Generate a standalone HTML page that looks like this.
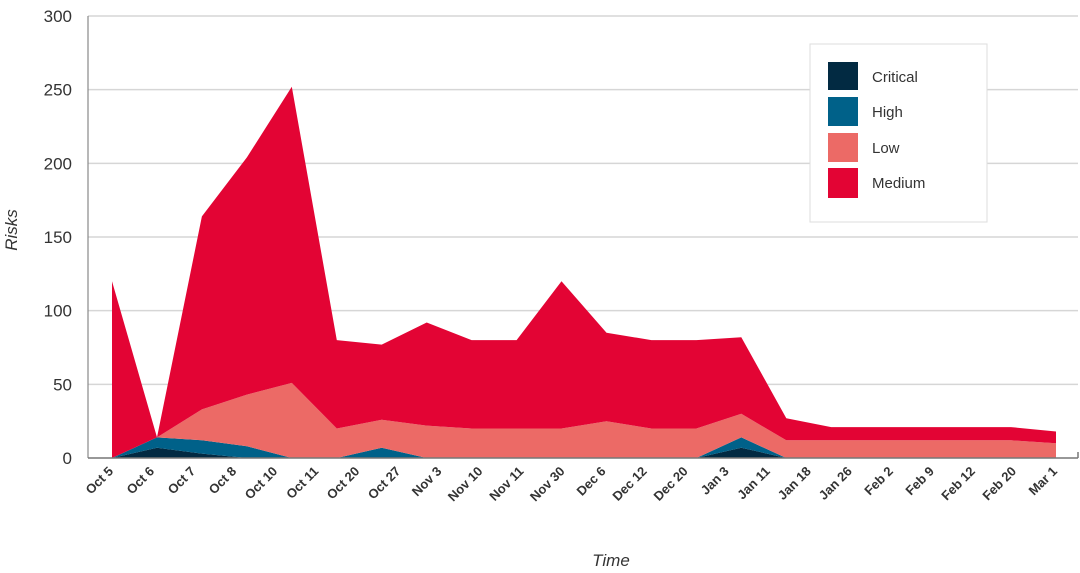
<!DOCTYPE html>
<html><head><meta charset="utf-8"><style>
html,body{margin:0;padding:0;background:#fff}
svg{display:block;font-family:"Liberation Sans",sans-serif}
</style></head><body>
<svg id="chart" width="1080" height="573" viewBox="0 0 1080 573">
<g id="grid"></g>
<g id="areas"></g>
<g id="yticks"></g>
<g id="xticks"></g>
<line x1="88" y1="16" x2="88" y2="458" stroke="#888" stroke-width="1.2"/>
<line x1="88" y1="458" x2="1078" y2="458" stroke="#777" stroke-width="1.5"/>
<line x1="1078" y1="452" x2="1078" y2="458" stroke="#777" stroke-width="1.5"/>
<text transform="translate(17,230) rotate(-90)" text-anchor="middle" font-size="17" font-style="italic" fill="#333">Risks</text>
<text x="611" y="566" text-anchor="middle" font-size="17" font-style="italic" fill="#333">Time</text>
<g>
<rect x="810" y="44" width="177" height="178" fill="#fff" stroke="#ddd"/>
<rect x="828" y="62" width="30" height="28" fill="#022a42"/>
<text x="872" y="82" font-size="15" fill="#333">Critical</text>
<rect x="828" y="97" width="30" height="29" fill="#006189"/>
<text x="872" y="117" font-size="15" fill="#333">High</text>
<rect x="828" y="133" width="30" height="29" fill="#ec6a66"/>
<text x="872" y="153" font-size="15" fill="#333">Low</text>
<rect x="828" y="168" width="30" height="30" fill="#e30434"/>
<text x="872" y="188" font-size="15" fill="#333">Medium</text>
</g>
</svg>
<script>
const xLabels = ["Oct 5","Oct 6","Oct 7","Oct 8","Oct 10","Oct 11","Oct 20","Oct 27","Nov 3","Nov 10","Nov 11","Nov 30","Dec 6","Dec 12","Dec 20","Jan 3","Jan 11","Jan 18","Jan 26","Feb 2","Feb 9","Feb 12","Feb 20","Mar 1"];
const critical = [0,7,3,0,0,0,0,0,0,0,0,0,0,0,7,0,0,0,0,0,0,0];
const high     = [0,7,9,8,0,0,7,0,0,0,0,0,0,0,7,0,0,0,0,0,0,0];
const low      = [0,0,21,35,51,20,19,22,20,20,20,25,20,20,16,12,12,12,12,12,12,10];
const medium   = [120,0,131,161,201,60,51,70,60,60,100,60,60,60,52,15,9,9,9,9,9,8];
const yTicks = [0,50,100,150,200,250,300];

const NS="http://www.w3.org/2000/svg";
const yMax=300, y0=458, y1=16;
function yScale(v){return y0-(v/yMax)*(y0-y1);}
function xData(i){return 112+i*(1056-112)/(critical.length-1);}
function xLab(i){return 112+i*(1056-112)/(xLabels.length-1);}
function mk(tag,attrs,parent){const e=document.createElementNS(NS,tag);for(const k in attrs)e.setAttribute(k,attrs[k]);parent.appendChild(e);return e;}

const grid=document.getElementById('grid'), yt=document.getElementById('yticks');
yTicks.forEach(t=>{
  if(t>0){const l=mk('line',{x1:88,x2:1078,y1:yScale(t),y2:yScale(t),stroke:'#d6d6d6','stroke-width':1.5},grid);
  
  }
  const tx=mk('text',{x:72,y:yScale(t)+6,'text-anchor':'end','font-size':17,fill:'#333'},yt);
  
  
  tx.textContent=t;
});

const series=[["critical",critical,"#022a42"],["high",high,"#006189"],["low",low,"#ec6a66"],["medium",medium,"#e30434"]];
const areas=document.getElementById('areas');
let base=critical.map(()=>0);
series.forEach(([name,vals,col])=>{
  const top=base.map((b,i)=>b+vals[i]);
  let d='';
  top.forEach((v,i)=>{d+=(i?'L':'M')+xData(i).toFixed(1)+','+yScale(v).toFixed(1);});
  for(let i=base.length-1;i>=0;i--)d+='L'+xData(i).toFixed(1)+','+yScale(base[i]).toFixed(1);
  const p=mk('path',{d:d+'Z',fill:col},areas);
  
  
  base=top;
});

const xt=document.getElementById('xticks');
xLabels.forEach((lab,i)=>{
  const x=xLab(i)+2, y=472;
  const t=mk('text',{x:x,y:y,'text-anchor':'end','font-size':13,'font-weight':'bold',fill:'#333',transform:'rotate(-45 '+x+' '+y+')'},xt);
  
  
  t.textContent=lab;
});
</script>
</body></html>
